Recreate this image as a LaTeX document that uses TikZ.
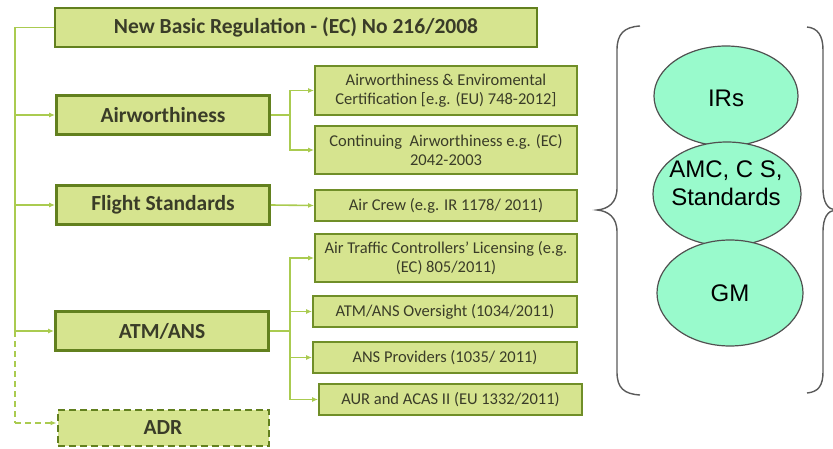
\documentclass[tikz,border=0pt]{standalone}
\usepackage{fontspec}
\setmainfont{Carlito}
\newfontfamily\arialfont{Liberation Sans}
\usetikzlibrary{arrows.meta,shapes.geometric}
\definecolor{boxfill}{RGB}{214,228,143}
\definecolor{boxedge}{RGB}{98,128,30}
\definecolor{boxedgeR}{RGB}{112,142,40}
\definecolor{conn}{RGB}{170,203,80}
\definecolor{txt}{RGB}{58,60,40}
\definecolor{ellfill}{RGB}{153,250,204}
\definecolor{elledge}{RGB}{80,80,80}
\definecolor{bracec}{RGB}{90,90,90}
\tikzset{
  mainbox/.style={draw=boxedge, line width=2.8pt, fill=boxfill, text=txt, inner sep=0pt,
    font=\fontsize{21.5}{24}\selectfont\bfseries, align=center},
  subbox/.style={draw=boxedgeR, line width=1.8pt, fill=boxfill, text=txt, inner sep=0pt,
    font=\fontsize{16.5}{18.5}\selectfont, align=center, minimum width=262pt},
  link/.style={draw=conn, line width=1.6pt, -{Latex[length=6pt,width=5pt]}},
  plain/.style={draw=conn, line width=1.6pt},
  oval/.style={ellipse, draw=elledge, line width=1.2pt, fill=ellfill, inner sep=0pt,
    font=\arialfont\fontsize{24}{28}\selectfont, align=center},
  ovaltext/.style={font=\arialfont\fontsize{24}{28}\selectfont, align=center, inner sep=0pt},
  bracestyle/.style={draw=bracec, line width=1.4pt}
}
\begin{document}
\begin{tikzpicture}[x=1pt,y=-1pt]
\useasboundingbox (0,0) rectangle (833,449);
% main column
\node[mainbox, minimum width=482pt, minimum height=39pt] (top) at (296,27.5) {New Basic Regulation - (EC) No 216/2008};
\node[mainbox, minimum width=213pt, minimum height=39pt] (air) at (163,115) {Airworthiness};
\node[mainbox, minimum width=213pt, minimum height=39pt] (fs) at (163,205) {Flight Standards};
\node[mainbox, minimum width=213pt, minimum height=39pt] (atm) at (162,331) {ATM/ANS};
\node[mainbox, dash pattern=on 7pt off 4pt, line width=2pt, minimum width=211pt, minimum height=36pt] (adr) at (163,428) {ADR};
% sub boxes
\node[subbox, minimum height=49pt] (aec) at (446,90.5) {Airworthiness \& Enviromental\\Certification [e.g. (EU) 748-2012]};
\node[subbox, minimum height=48pt] (ca) at (446,150) {Continuing\ \ Airworthiness e.g. (EC)\\2042-2003};
\node[subbox, minimum height=31pt] (ac) at (446,205.5) {Air Crew (e.g. IR 1178/ 2011)};
\node[subbox, minimum height=48pt] (atc) at (446,258) {Air Traffic Controllers' Licensing (e.g.\\(EC) 805/2011)};
\node[subbox, minimum width=264pt, minimum height=31pt] (ovs) at (445,311.5) {ATM/ANS Oversight (1034/2011)};
\node[subbox, minimum width=264pt, minimum height=31pt] (ansp) at (445,357.5) {ANS Providers (1035/ 2011)};
\node[subbox, minimum width=263pt, minimum height=31pt] (aur) at (450.5,399.5) {AUR and ACAS II (EU 1332/2011)};
% trunk
\coordinate (t0) at (15,27.5);
\coordinate (t3) at (15,331);
\coordinate (t4) at (15,423);
\draw[plain] (top.west) -- (t0) -- (t3);
\draw[link] (15,115) -- (air.west);
\draw[link] (15,205) -- (fs.west);
\draw[link] (t3) -- (atm.west);
\draw[plain, dash pattern=on 6pt off 4pt] (t3) -- (t4);
\draw[link, dash pattern=on 6pt off 4pt] (t4) -- (adr.west |- t4);
% airworthiness branch
\coordinate (ab) at (290,115);
\draw[plain] (air.east) -- (ab);
\draw[link] (ab) |- (aec.west);
\draw[link] (ab) |- (ca.west);
% flight standards
\draw[link] (fs.east) -- (ac.west);
% atm branch
\coordinate (mb) at (290,331);
\draw[plain] (atm.east) -- (mb);
\draw[link] (mb) |- (atc.west);
\draw[link] (mb) |- (ovs.west);
\draw[link] (mb) |- (ansp.west);
\draw[link] (mb) |- (aur.west);
% ellipses
\node[oval, minimum width=144pt, minimum height=100pt] (irs) at (726,96) {};
\node[oval, minimum width=148pt, minimum height=104pt] (amc) at (727,194) {};
\node[oval, minimum width=146pt, minimum height=106pt] (gm) at (730,293) {};
\node[ovaltext] (irst) at (726,98) {IRs};
\node[ovaltext] (amct) at (726,183) {AMC, C S,\\Standards};
\node[ovaltext] (gmt) at (730,293) {GM};
% braces
\draw[bracestyle] (640,26) .. controls (624,27) and (617,34) .. (617,50)
  -- (617,188) .. controls (617,203) and (608,209) .. (597,210)
  .. controls (608,211) and (617,217) .. (617,232)
  -- (617,372) .. controls (617,388) and (624,394) .. (640,395);
\draw[bracestyle] (807,27) .. controls (818,28) and (823,36) .. (823,50)
  -- (823,188) .. controls (823,203) and (828,209) .. (835,210)
  .. controls (828,211) and (823,217) .. (823,232)
  -- (823,372) .. controls (823,386) and (818,392) .. (807,393);
\end{tikzpicture}
\end{document}
